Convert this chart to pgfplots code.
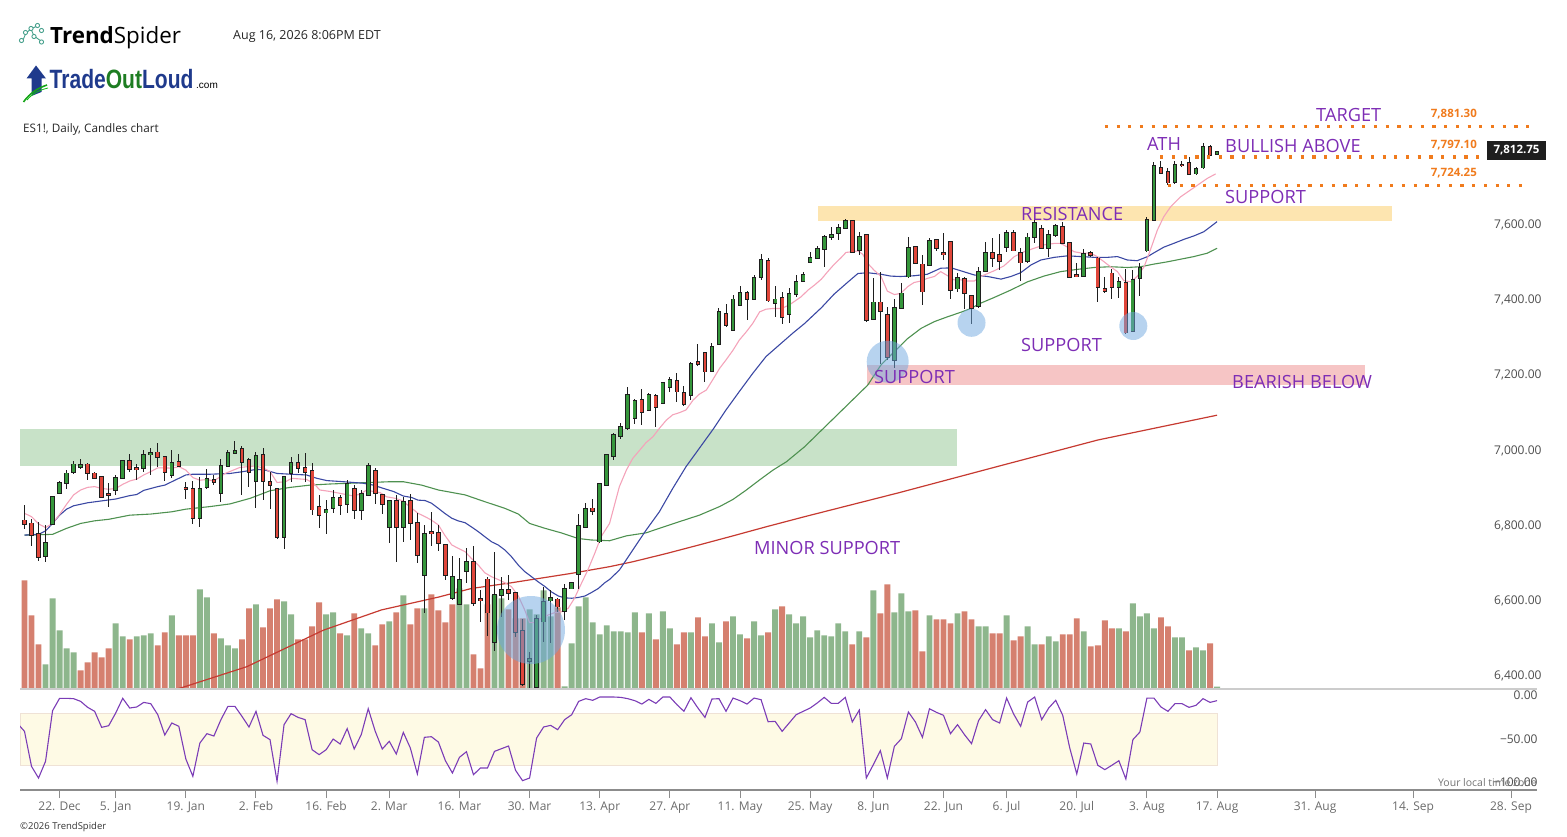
\documentclass[border=0pt]{standalone}
\usepackage{pgfplots}
\pgfplotsset{compat=1.18}
\usepackage{pgfplotstable}
\usepackage{fontspec}
\setmainfont{Open Sans}
\newfontfamily\logofont{Liberation Sans}
\newcommand{\fs}[1]{\fontsize{#1}{#1}\selectfont}

\definecolor{upc}{HTML}{35963B}
\definecolor{dnc}{HTML}{E0463A}
\definecolor{wick}{HTML}{1E1E1E}
\definecolor{volg}{HTML}{8DB68C}
\definecolor{volr}{HTML}{D5806F}
\definecolor{mapink}{HTML}{F4A3BA}
\definecolor{mablue}{HTML}{3B48A3}
\definecolor{magreen}{HTML}{4E9150}
\definecolor{mared}{HTML}{C63A31}
\definecolor{zgreen}{HTML}{C8E2C8}
\definecolor{zyellow}{HTML}{FDE5B0}
\definecolor{zred}{HTML}{F6C5C5}
\definecolor{circ}{HTML}{6FA8E0}
\definecolor{purp}{HTML}{7D2DB5}
\definecolor{orng}{HTML}{F07B1D}
\definecolor{osc}{HTML}{7B3CB6}
\definecolor{band}{HTML}{FEFAE5}
\definecolor{bandedge}{HTML}{EFE2D6}
\definecolor{tickc}{HTML}{4D4D4D}
\definecolor{datec}{HTML}{6B6B6B}
\definecolor{axisc}{HTML}{8C8C8C}
\definecolor{sepc}{HTML}{CCCCCC}
\definecolor{navy}{HTML}{1F3A8C}
\definecolor{logog}{HTML}{1E7D22}
\definecolor{teal}{HTML}{46A08C}

% ---------- candles: up (close >= open) ----------
\pgfplotstableread{
i o h l c
3 6720 6802 6704 6753
4 6805 6880 6802 6876
5 6888 6919 6886 6913
6 6913 6948 6899 6939
7 6942 6972 6937 6963
8 6957 6977 6951 6961
13 6894 6935 6883 6926
14 6928 6976 6926 6972
17 6954 7001 6944 6988
18 6990 7008 6935 6994
21 6935 7001 6926 6966
25 6821 6930 6797 6898
26 6903 6951 6898 6924
28 6886 6977 6864 6959
29 6959 7001 6955 6994
30 6993 7025 6991 6999
33 6920 6997 6846 6985
37 6769 6930 6737 6929
38 6941 6982 6917 6966
43 6835 6868 6778 6843
44 6846 6895 6833 6875
46 6858 6922 6833 6911
48 6842 6895 6815 6884
49 6882 6966 6879 6959
52 6797 6868 6753 6867
54 6796 6877 6757 6864
57 6669 6802 6569 6777
61 6607 6719 6602 6664
62 6592 6713 6589 6656
63 6680 6740 6647 6704
67 6491 6729 6467 6616
68 6616 6664 6558 6629
72 6440 6465 6368 6445
73 6370 6562 6367 6551
74 6545 6638 6491 6598
75 6601 6629 6489 6607
77 6574 6645 6549 6633
78 6633 6651 6631 6647
79 6672 6831 6633 6799
80 6797 6861 6796 6844
82 6758 6913 6753 6911
83 6908 6991 6906 6988
84 6985 7047 6975 7041
85 7039 7074 7031 7062
86 7059 7170 7056 7148
87 7086 7136 7071 7133
89 7108 7154 7106 7148
91 7126 7183 7124 7179
92 7168 7195 7157 7188
95 7148 7236 7134 7230
98 7212 7287 7210 7276
99 7283 7378 7281 7369
101 7321 7414 7319 7402
102 7387 7438 7385 7420
104 7402 7467 7400 7458
105 7461 7523 7455 7507
107 7392 7438 7356 7402
109 7363 7432 7340 7416
110 7416 7467 7409 7449
111 7451 7475 7449 7466
112 7501 7529 7499 7513
113 7513 7545 7510 7536
114 7536 7573 7489 7569
115 7569 7596 7560 7573
116 7578 7604 7560 7593
117 7593 7616 7589 7611
119 7533 7581 7520 7569
121 7350 7458 7347 7394
124 7241 7403 7219 7380
125 7380 7445 7377 7418
126 7463 7569 7460 7540
129 7494 7565 7492 7557
133 7431 7471 7421 7460
136 7385 7489 7380 7476
137 7478 7554 7477 7525
140 7542 7587 7529 7578
143 7503 7578 7500 7567
144 7569 7618 7553 7606
146 7538 7587 7514 7573
147 7573 7603 7569 7597
151 7464 7535 7462 7523
156 7434 7463 7405 7449
158 7318 7480 7316 7455
159 7458 7500 7411 7485
160 7532 7620 7529 7613
161 7612 7769 7610 7757
164 7715 7771 7709 7760
167 7737 7755 7733 7748
168 7753 7819 7748 7807
170 7790 7798 7787 7795
}\candleup

% ---------- candles: down (close < open) ----------
\pgfplotstableread{
i o h l c
0 6814 6855 6791 6805
1 6806 6818 6747 6775
2 6777 6809 6706 6717
9 6963 6966 6922 6939
10 6939 6944 6924 6928
11 6929 6933 6873 6876
12 6885 6913 6851 6882
15 6972 6990 6944 6951
16 6954 6963 6922 6950
19 6995 7019 6957 6983
20 6983 6986 6919 6942
22 6969 6990 6957 6960
23 6901 6917 6871 6898
24 6899 6919 6805 6820
27 6922 6935 6907 6915
31 7004 7012 6882 6970
32 6975 6979 6902 6944
34 6988 7008 6868 6920
35 6917 6944 6844 6908
36 6897 6899 6766 6769
39 6966 6991 6939 6953
40 6953 6993 6917 6944
41 6946 6966 6828 6843
42 6849 6882 6793 6828
45 6873 6882 6828 6855
47 6899 6908 6817 6842
50 6946 6953 6858 6888
51 6882 6884 6831 6858
53 6867 6882 6704 6796
55 6867 6884 6762 6806
56 6808 6835 6700 6722
58 6784 6837 6746 6780
59 6780 6802 6734 6753
60 6749 6751 6655 6669
64 6704 6746 6586 6595
65 6604 6629 6545 6601
66 6657 6664 6506 6569
69 6629 6669 6602 6622
70 6622 6625 6503 6518
71 6521 6551 6373 6379
76 6604 6607 6571 6585
81 6846 6870 6828 6840
88 7134 7165 7068 7103
90 7145 7150 7063 7115
93 7186 7207 7130 7157
94 7154 7172 7118 7124
96 7236 7283 7225 7230
97 7259 7260 7183 7210
100 7363 7390 7328 7334
103 7420 7425 7347 7402
106 7505 7511 7396 7399
108 7405 7423 7338 7354
118 7611 7613 7527 7529
120 7573 7576 7343 7347
122 7394 7476 7229 7371
123 7362 7383 7241 7250
127 7542 7545 7496 7498
128 7495 7520 7387 7423
130 7560 7563 7531 7538
131 7525 7580 7507 7522
132 7554 7557 7403 7427
134 7456 7463 7377 7418
135 7412 7415 7338 7380
138 7525 7565 7489 7513
139 7520 7576 7480 7505
141 7578 7587 7530 7532
142 7526 7538 7452 7500
145 7589 7600 7536 7538
148 7596 7609 7551 7553
149 7553 7556 7461 7462
150 7467 7500 7461 7464
152 7525 7530 7515 7520
153 7511 7514 7396 7436
154 7431 7463 7418 7425
155 7471 7482 7402 7436
157 7447 7482 7310 7314
162 7753 7769 7737 7739
163 7742 7753 7706 7713
165 7760 7771 7755 7759
166 7764 7782 7733 7736
169 7807 7813 7784 7786
}\candledn

% ---------- volume (relative units) ----------
\pgfplotstableread{
i v
3 71
4 269
5 173
6 119
7 107
13 194
14 155
16 155
17 158
18 164
21 218
25 296
26 272
28 149
29 128
30 119
33 251
37 260
38 221
43 221
44 227
46 158
48 179
49 164
52 200
54 278
57 239
62 299
63 251
67 278
68 269
72 236
73 221
74 293
75 215
77 5
78 134
79 245
80 272
81 197
82 161
83 188
84 170
85 170
86 167
87 227
89 224
91 230
92 179
95 167
98 194
99 137
101 215
102 161
104 200
105 158
107 236
109 221
110 194
111 215
112 152
113 173
114 158
115 155
116 194
117 170
119 170
121 293
124 227
125 284
126 230
129 218
133 224
136 185
137 185
140 218
143 185
144 131
146 155
147 140
151 170
156 179
158 254
159 215
160 224
161 179
164 152
165 152
167 122
168 113
170 4
}\volup

\pgfplotstableread{
i v
0 323
1 218
2 131
8 53
9 77
10 107
11 92
12 119
15 146
19 128
20 167
22 158
23 158
24 158
27 164
31 146
32 239
34 182
35 239
36 266
39 146
40 146
41 185
42 257
45 164
47 224
50 128
51 191
53 227
55 191
56 239
58 281
59 233
60 197
61 251
64 101
65 59
66 251
69 236
70 209
71 209
76 242
88 167
90 146
93 131
94 167
96 212
97 155
100 200
103 149
106 167
108 245
118 131
120 152
122 224
123 311
127 233
128 110
130 206
131 206
132 194
134 230
135 206
138 164
139 164
141 143
142 155
145 131
148 161
149 161
150 209
152 125
153 128
154 203
155 179
157 170
162 212
163 185
166 113
169 134
}\voldn

% ---------- Williams %R ----------
\pgfplotstableread{
i w
-1 -32
0 -41.1
1 -81.5
2 -95.0
3 -75.7
4 -17.3
5 -3.0
6 -3.0
7 -3.4
8 -6.5
9 -13.4
10 -18.0
11 -36.5
12 -34.6
13 -20.0
14 -3.0
15 -14.2
16 -13.0
17 -7.7
18 -9.2
19 -21.9
20 -45.3
21 -31.5
22 -35.3
23 -73.0
24 -93.0
25 -54.6
26 -43.8
27 -46.5
28 -27.6
29 -12.3
30 -12.3
31 -23.8
32 -36.1
33 -18.0
34 -45.7
35 -50.7
36 -98.8
37 -33.4
38 -20.7
39 -25.0
40 -27.6
41 -62.3
42 -68.0
43 -62.3
44 -50.0
45 -55.7
46 -38.0
47 -61.5
48 -45.0
49 -15.0
50 -41.1
51 -61.5
52 -52.6
53 -67.3
54 -42.3
55 -60.3
56 -90.3
57 -48.0
58 -47.3
59 -53.4
60 -75.0
61 -89.2
62 -71.1
63 -64.6
64 -91.1
65 -83.4
66 -83.4
67 -64.2
68 -61.1
69 -58.0
70 -86.1
71 -98.0
72 -95.0
73 -48.8
74 -36.1
75 -34.2
76 -39.2
77 -27.6
78 -21.9
79 -6.5
80 -3.4
81 -5.3
82 -1.5
83 -1.5
84 -1.5
85 -1.9
86 -3.4
87 -5.7
88 -9.6
89 -4.2
90 -8.8
91 -1.5
92 -1.5
93 -10.3
94 -18.0
95 -2.3
96 -14.2
97 -25.0
98 -3.8
99 -3.4
100 -18.0
101 -2.7
102 -5.7
103 -9.6
104 -2.7
105 -4.6
106 -30.0
107 -29.6
108 -41.1
109 -31.5
110 -21.9
111 -18.0
112 -14.2
113 -8.4
114 -1.9
115 -8.8
116 -8.8
117 -1.9
118 -30.3
119 -16.5
120 -94.9
121 -79.6
122 -63.4
123 -94.9
124 -58.4
125 -49.6
126 -18.8
127 -30.3
128 -48.0
129 -15.0
130 -19.2
131 -22.6
132 -43.8
133 -33.4
134 -45.0
135 -55.3
136 -28.8
137 -16.1
138 -27.6
139 -31.5
140 -2.7
141 -21.1
142 -35.3
143 -7.3
144 -1.5
145 -27.6
146 -14.2
147 -5.3
148 -22.6
149 -60.3
150 -90.3
151 -54.6
152 -55.7
153 -80.3
154 -85.3
155 -80.3
156 -75.0
157 -96.1
158 -50.7
159 -41.9
160 -2.7
161 -2.7
162 -13.0
163 -18.0
164 -9.2
165 -9.2
166 -13.4
167 -11.1
168 -3.4
169 -7.7
170 -5.7
}\willr

\begin{document}
\begin{tikzpicture}[x=1pt,y=-1pt]
\useasboundingbox (0pt,0pt) rectangle (1567pt,-837pt);

% ===== volume (behind) =====
\begin{axis}[at={(20pt,-688pt)}, anchor=south west, scale only axis,
  width=1517pt, height=593pt, xmin=-0.641, xmax=215.61, ymin=0, ymax=1779, hide axis]
\addplot[ybar, bar width=5.9pt, bar shift=0pt, fill=volg, draw=none] table[x=i,y=v]{\volup};
\addplot[ybar, bar width=5.9pt, bar shift=0pt, fill=volr, draw=none] table[x=i,y=v]{\voldn};
\end{axis}

% ===== price panel =====
\begin{axis}[at={(20pt,-688pt)}, anchor=south west, scale only axis,
  width=1517pt, height=593pt, xmin=-0.641, xmax=215.61, ymin=6368.2, ymax=7945.9,
  axis line style={draw=none}, xtick=\empty,
  ytick={6400,6600,6800,7000,7200,7400,7600},
  yticklabels={{6,400.00},{6,600.00},{6,800.00},{7,000.00},{7,200.00},{7,400.00},{7,600.00}},
  yticklabel pos=right, ytick style={draw=none}, major tick length=0pt,
  yticklabel style={anchor=east, xshift=8pt, font=\fs{12}, text=tickc},
  clip=true]
% zones
\addplot[fill=zgreen, draw=none] coordinates {(-0.641,6959.6) (132.9,6959.6) (132.9,7057.2) (-0.641,7057.2)} -- cycle;
\addplot[fill=zyellow, draw=none] coordinates {(113.1,7611.4) (194.9,7611.4) (194.9,7650.6) (113.1,7650.6)} -- cycle;
\addplot[fill=zred, draw=none] coordinates {(120.1,7174.3) (191.1,7174.3) (191.1,7227.5) (120.1,7227.5)} -- cycle;
% moving averages
\addplot[mared, line width=1.2pt] coordinates {(20,6358) (22.4,6369) (31.7,6425) (42.6,6522) (50.9,6576) (59,6610) (63.7,6633) (69,6647) (77.9,6673) (83.4,6691) (86.7,6704) (91.5,6726) (96.2,6749) (101,6773) (105.7,6797) (111.2,6824) (124.7,6888) (139,6959) (153,7028) (170,7094)};
\addplot[magreen, line width=1.1pt] coordinates {(0,6775) (4,6777) (6,6793) (8,6806) (10,6813) (12,6817) (15,6828) (18,6831) (21,6837) (23,6844) (26.5,6851) (29.3,6858) (32.2,6873) (35,6893) (37.9,6902) (40.7,6908) (43.6,6911) (46.4,6913) (49.2,6915) (52.1,6917) (54,6917) (56.6,6908) (59,6895) (62.8,6882) (65.6,6864) (68.5,6846) (70.4,6831) (72,6806) (74.2,6793) (76.5,6781) (78.9,6766) (80.8,6762) (83.4,6760) (85.8,6773) (88.6,6781) (90.5,6793) (93.4,6811) (96.2,6828) (99.1,6851) (101,6870) (102.9,6895) (104.8,6922) (106.7,6948) (108.6,6970) (111.2,7010) (120.2,7174) (122.1,7228) (124,7263) (125.9,7298) (127.8,7325) (129.7,7343) (131.6,7356) (133.5,7368) (134.9,7378) (136.3,7392) (138.2,7407) (140.6,7427) (143,7449) (145.3,7464) (147.7,7476) (150.1,7482) (152.5,7487) (154.8,7489) (157.2,7487) (159.1,7489) (161,7496) (162.9,7502) (164.8,7509) (166.7,7516) (168.6,7525) (170,7538)};
\addplot[mablue, line width=1.1pt] coordinates {(0,6775) (2,6777) (3,6786) (4,6806) (5,6828) (6,6844) (7,6853) (9,6861) (11,6866) (13,6871) (15,6880) (16,6883) (17,6894) (19,6904) (20,6908) (21,6917) (22,6926) (23,6935) (24,6937) (26.5,6937) (29.3,6939) (31.2,6944) (33.1,6950) (34.3,6948) (36,6939) (37.9,6937) (40.2,6935) (41.7,6926) (43.1,6920) (45.5,6917) (46.9,6915) (48.3,6913) (49.7,6908) (51.2,6899) (52.6,6891) (54,6879) (55.2,6875) (56.1,6868) (57.1,6867) (58,6860) (59,6846) (59.9,6833) (60.9,6820) (61.8,6813) (62.8,6808) (63.7,6797) (64.7,6784) (65.6,6771) (66.6,6757) (67.5,6749) (68.5,6735) (69.4,6718) (70.4,6695) (71.3,6678) (72.3,6664) (73.2,6651) (74.2,6638) (75.1,6624) (76.1,6613) (77,6608) (78,6607) (78.9,6609) (79.9,6613) (80.8,6622) (81.8,6633) (82.7,6648) (83.4,6657) (84.8,6682) (86.7,6735) (88.6,6788) (90.5,6837) (92.4,6899) (94.3,6957) (96.2,7006) (98.1,7055) (100,7108) (101.9,7157) (103.8,7205) (105.7,7250) (107.6,7281) (109.5,7312) (111.2,7338) (113.6,7380) (115.4,7416) (117.3,7447) (118.8,7471) (120.2,7473) (122.1,7469) (123.5,7464) (124.9,7463) (126.8,7465) (128.7,7469) (130.6,7485) (132.1,7486) (133.5,7478) (135.4,7467) (137.3,7463) (139.2,7456) (140.6,7463) (142,7473) (143.5,7494) (144.9,7507) (146.8,7514) (148.7,7518) (150.6,7516) (152.5,7514) (154.4,7514) (155.8,7516) (157.2,7507) (158.6,7505) (160.1,7516) (161,7526) (162.4,7541) (163.8,7551) (165.3,7562) (166.7,7571) (168.1,7582) (169.1,7596) (170,7609)};
\addplot[mapink, line width=1.1pt] coordinates {(0,6833) (1,6824) (2,6805) (3,6795) (4,6806) (5,6830) (6,6857) (7,6882) (8,6895) (9,6902) (10,6904) (11,6899) (12,6897) (13,6899) (14,6910) (15,6919) (16,6924) (17,6935) (18,6944) (19,6954) (20,6954) (21,6953) (22,6957) (23,6948) (24,6928) (25,6921) (26,6923) (27,6919) (28.6,6939) (30.7,6955) (32.9,6959) (34.1,6953) (35,6944) (36,6915) (37.2,6917) (38.1,6926) (40.2,6923) (41.2,6913) (42.1,6895) (43.6,6891) (45,6886) (46.9,6879) (47.8,6884) (48.8,6895) (49.7,6891) (50.7,6888) (51.6,6877) (52.8,6873) (53.8,6867) (54.9,6851) (56.1,6833) (57.1,6824) (58,6815) (59,6802) (59.9,6775) (60.9,6749) (61.8,6740) (62.8,6731) (63.7,6713) (64.7,6695) (65.6,6675) (66.6,6664) (67.5,6657) (68.5,6648) (69.4,6638) (70.4,6613) (71.3,6576) (72,6542) (72.7,6542) (73.7,6554) (74.6,6562) (75.6,6569) (76.5,6571) (77.5,6580) (78.4,6607) (79.4,6647) (80.3,6682) (81.3,6727) (82.2,6771) (83.4,6806) (84.8,6904) (85.8,6948) (86.7,6979) (87.7,7001) (88.6,7021) (89.6,7037) (90.5,7059) (91.5,7081) (92.4,7095) (93.4,7101) (94.3,7108) (95.3,7134) (96.2,7150) (97.2,7161) (98.1,7188) (99.1,7219) (100,7241) (101,7267) (101.9,7294) (102.9,7316) (103.8,7338) (104.8,7369) (105.7,7376) (106.7,7378) (107.9,7378) (109,7387) (110.7,7409) (111.7,7427) (112.6,7440) (113.6,7456) (114.5,7476) (115.4,7495) (116.4,7513) (117.1,7527) (118,7529) (118.8,7531) (119.5,7522) (120.2,7498) (121.1,7480) (122.1,7463) (123,7424) (124,7415) (124.9,7418) (125.9,7436) (126.8,7447) (127.8,7451) (128.7,7458) (129.7,7463) (130.6,7476) (131.6,7465) (132.5,7454) (133.5,7454) (134.4,7451) (135.4,7451) (136.3,7463) (137.3,7471) (138.2,7478) (139.6,7491) (141.1,7516) (142.5,7529) (143.9,7538) (145.3,7547) (146.8,7551) (147.7,7551) (148.7,7541) (149.6,7529) (150.8,7525) (152,7525) (152.9,7516) (153.9,7502) (154.8,7489) (155.8,7476) (156.7,7452) (157.7,7449) (158.6,7463) (159.6,7489) (160.5,7534) (161.5,7587) (162.4,7622) (163.4,7649) (164.8,7675) (166.2,7693) (167.6,7711) (168.6,7724) (169.8,7736)};
% candles: wicks
\addplot[draw=none, error bars/.cd, y dir=both, y explicit, error mark=none,
  error bar style={line width=1pt, draw=wick}]
  table[x=i, y expr={(\thisrow{h}+\thisrow{l})/2}, y error expr={(\thisrow{h}-\thisrow{l})/2}]{\candleup};
\addplot[draw=none, error bars/.cd, y dir=both, y explicit, error mark=none,
  error bar style={line width=1pt, draw=wick}]
  table[x=i, y expr={(\thisrow{h}+\thisrow{l})/2}, y error expr={(\thisrow{h}-\thisrow{l})/2}]{\candledn};
% candles: body outlines
\addplot[draw=none, error bars/.cd, y dir=both, y explicit, error mark=none,
  error bar style={line width=4.6pt, draw=wick}]
  table[x=i, y expr={(\thisrow{o}+\thisrow{c})/2}, y error expr={abs(\thisrow{c}-\thisrow{o})/2+2.4}]{\candleup};
\addplot[draw=none, error bars/.cd, y dir=both, y explicit, error mark=none,
  error bar style={line width=4.6pt, draw=wick}]
  table[x=i, y expr={(\thisrow{o}+\thisrow{c})/2}, y error expr={abs(\thisrow{c}-\thisrow{o})/2+2.4}]{\candledn};
% candles: body fills
\addplot[draw=none, error bars/.cd, y dir=both, y explicit, error mark=none,
  error bar style={line width=2.8pt, draw=upc}]
  table[x=i, y expr={(\thisrow{o}+\thisrow{c})/2}, y error expr={abs(\thisrow{c}-\thisrow{o})/2}]{\candleup};
\addplot[draw=none, error bars/.cd, y dir=both, y explicit, error mark=none,
  error bar style={line width=2.8pt, draw=dnc}]
  table[x=i, y expr={(\thisrow{o}+\thisrow{c})/2}, y error expr={abs(\thisrow{c}-\thisrow{o})/2}]{\candledn};
% highlight circles
\addplot[only marks, draw=none, mark=*, mark size=21pt, mark options={draw=none, fill=circ, fill opacity=0.5, draw opacity=0}] coordinates {(123.05,7236.3)};
\addplot[only marks, draw=none, mark=*, mark size=14pt, mark options={draw=none, fill=circ, fill opacity=0.5, draw opacity=0}] coordinates {(135.0,7339.8) (158.06,7331.3)};
\addplot[only marks, draw=none, mark=*, mark size=34pt, mark options={draw=none, fill=circ, fill opacity=0.5, draw opacity=0}] coordinates {(72.2,6522.5)};
% dotted levels
\addplot[orng, line width=3.2pt, dash pattern=on 3.2pt off 8.5pt] coordinates {(154.0,7863) (214.6,7863)};
\addplot[orng, line width=3.2pt, dash pattern=on 3.2pt off 8.5pt] coordinates {(161.9,7781) (207.5,7781)};
\addplot[orng, line width=3.2pt, dash pattern=on 3.2pt off 8.5pt] coordinates {(163.0,7706) (214.6,7706)};
\end{axis}

% ===== oscillator panel =====
\begin{axis}[at={(20pt,-790pt)}, anchor=south west, scale only axis,
  width=1517pt, height=100pt, xmin=-0.641, xmax=215.61, ymin=-108.8, ymax=6.6,
  axis x line*=bottom, axis y line*=right,
  x axis line style={draw=axisc, line width=1.2pt},
  y axis line style={draw=none},
  tick align=outside, major tick length=8pt,
  xtick style={draw=axisc, line width=1pt},
  ytick style={draw=none},
  xtick={5,13,23,33,43,52,62,72,82,92,102,112,121,131,140,150,160,170,183.97,197.94,211.9},
  xticklabels={22. Dec,5. Jan,19. Jan,2. Feb,16. Feb,2. Mar,16. Mar,30. Mar,13. Apr,27. Apr,11. May,25. May,8. Jun,22. Jun,6. Jul,20. Jul,3. Aug,17. Aug,31. Aug,14. Sep,28. Sep},
  xticklabel style={font=\fs{12}, text=datec},
  ytick={0,-50,-100}, yticklabels={0.00,−50.00,−100.00},
  yticklabel style={anchor=east, xshift=-4pt, font=\fs{12}, text=tickc},
  clip=true]
\addplot[fill=band, draw=bandedge, line width=0.8pt] coordinates {(-0.641,-20) (170.1,-20) (170.1,-80) (-0.641,-80)} -- cycle;
\addplot[osc, line width=1.1pt] table[x=i,y=w]{\willr};
\end{axis}

% separator between panels
\draw[sepc, line width=2.6pt] (20,689) -- (1537,689);

% ===== annotations =====
\begin{scope}[every node/.style={inner sep=0pt, anchor=west, text=purp, font=\fs{18.2}}]
\node at (1316,115) {TARGET};
\node at (1147,144) {ATH};
\node at (1225,146) {BULLISH ABOVE};
\node at (1225,197) {SUPPORT};
\node at (1021,214) {RESISTANCE};
\node at (1021,345) {SUPPORT};
\node at (874,376.5) {SUPPORT};
\node at (1232,382) {BEARISH BELOW};
\node at (754,548) {MINOR SUPPORT};
\end{scope}
\begin{scope}[every node/.style={inner sep=0pt, anchor=east, text=orng, font=\fs{11.5}\bfseries}]
\node at (1477,114) {7,881.30};
\node at (1477,145) {7,797.10};
\node at (1477,173) {7,724.25};
\end{scope}
\node[fill=wick, text=white, font=\fs{11.5}\bfseries, minimum width=59pt, minimum height=19pt, inner sep=0pt] at (1516.5,150.5) {7,812.75};

% ===== header =====
\begin{scope}[teal, line width=0.9pt]
\draw (23,40) -- (26,33) -- (31,29) -- (37,26);
\draw (31,29) -- (34,36) -- (41,41);
\foreach \p in {(21.5,40.5),(25.5,32.5),(31,28.5),(37.5,25.5),(41.5,30.5),(34,36.5),(41.5,42)} \draw[fill=white] \p circle (2.1);
\end{scope}
\node[anchor=base west, inner sep=0pt, font=\fs{22.4}] at (50,43.3) {\textbf{Trend}Spider};
\node[anchor=base west, inner sep=0pt, font=\fs{12.5}, text=black!85] at (233,39.3) {Aug 16, 2026 8:06PM EDT};
% TradeOutLoud logo
\fill[navy] (36,65.5) -- (46,78.5) -- (41.5,78.5) -- (41.5,92) -- (31.5,96) -- (31.5,78.5) -- (26.5,78.5) -- cycle;
\draw[logog!70!green, line width=1.6pt] (23.5,102) .. controls (30,93) and (38,88) .. (47,85);
\draw[logog!50!green, line width=0.8pt] (27,100) .. controls (33,93) and (40,90) .. (48,88);
\node[anchor=base west, inner sep=0pt] at (49.5,88.3) {\scalebox{0.794}[1]{\logofont\bfseries\fs{26.5}\textcolor{navy}{Trade}\textcolor{logog}{Out}\textcolor{navy}{Loud}}};
\node[anchor=base west, inner sep=0pt, font=\logofont\fs{10}] at (196,88.3) {.com};
\node[anchor=base west, inner sep=0pt, font=\fs{11.7}, text=black!85] at (23,132.7) {ES1!, Daily, Candles chart};
% footer
\node[anchor=west, inner sep=0pt, font=\fs{9.5}, text=black!80] at (20,827) {©2026 TrendSpider};
\node[anchor=east, inner sep=0pt, font=\fs{10.5}, text=black!55] at (1537,783) {Your local time zone};
\end{tikzpicture}
\end{document}
